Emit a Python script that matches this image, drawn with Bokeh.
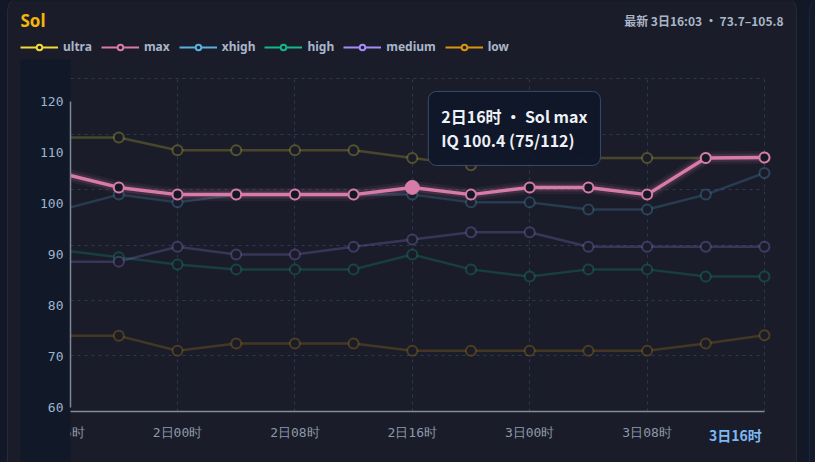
from bokeh.plotting import figure
from bokeh.models import (Range1d, LinearAxis, FixedTicker, Grid, BoxAnnotation,
                          Label, Legend, LegendItem, ColumnDataSource)
from bokeh.embed import file_html
from bokeh.resources import INLINE

# ---------------- data ----------------
times = ["1日16时", "1日20时", "2日00时", "2日04时", "2日08时", "2日12时", "2日16时",
         "2日20时", "3日00时", "3日04时", "3日08时", "3日12时", "3日16时"]
ultra = [109.4, 109.4, 107.1, 107.1, 107.1, 107.1, 105.7, 104.4, 105.7, 105.7, 105.7, 105.7, 105.8]
maxv = [103.0, 100.4, 99.1, 99.1, 99.1, 99.1, 100.4, 99.1, 100.4, 100.4, 99.1, 105.7, 105.8]
xhigh = [96.3, 99.1, 97.7, 99.1, 99.1, 99.1, 99.1, 97.7, 97.7, 96.4, 96.4, 99.1, 103.0]
high = [89.1, 87.8, 86.5, 85.6, 85.6, 85.6, 88.3, 85.6, 84.3, 85.6, 85.6, 84.3, 84.3]
medium = [87.0, 87.0, 89.7, 88.3, 88.3, 89.7, 91.0, 92.3, 92.3, 89.7, 89.7, 89.7, 89.7]
low = [73.6, 73.6, 70.9, 72.2, 72.2, 72.2, 70.9, 70.9, 70.9, 70.9, 70.9, 72.2, 73.7]
y_ticks = [60, 70, 80, 90, 100, 110, 120]
hover_index = 6
hover_counts = "75/112"
updated = "3日16:03"

series = [("ultra", ultra, "#eedc3a"), ("max", maxv, "#d77ba8"), ("xhigh", xhigh, "#5aafe0"),
          ("high", high, "#12b886"), ("medium", medium, "#a78bfa"), ("low", low, "#d8950c")]

CARD = "#1a1d29"
DARK = "#111827"
x = list(range(len(times)))

# ---------------- figure (frame = whole canvas) ----------------
W, H = 815, 462
p = figure(width=W, height=H, output_backend="svg", toolbar_location=None,
           x_range=Range1d(-1.0153, 12.869), y_range=Range1d(50.73, 134.15),
           x_axis_type=None, y_axis_type=None,
           min_border_left=0, min_border_right=0, min_border_top=0, min_border_bottom=0,
           background_fill_color="#121827", border_fill_color="#121827",
           outline_line_color=None)

p.extra_y_ranges = {"yax": Range1d(49.30, 139.71)}
p.extra_x_ranges = {"xlab": Range1d(-1.0153 + 0.494, 12.869 + 0.494)}

# card backgrounds
p.add_layout(BoxAnnotation(left=7, right=796, top=-4, bottom=480, left_units="canvas",
                           right_units="canvas", top_units="canvas", bottom_units="canvas",
                           fill_color=CARD, fill_alpha=1, line_color="#57503a",
                           line_width=1, border_radius=14, level="underlay"))
p.add_layout(BoxAnnotation(left=809, right=840, top=-4, bottom=480, left_units="canvas",
                           right_units="canvas", top_units="canvas", bottom_units="canvas",
                           fill_color="#121a2b", fill_alpha=1, line_color="#2b4777",
                           line_width=1, border_radius=14, level="underlay"))

# grids
xg = Grid(dimension=0, ticker=FixedTicker(ticks=x[::2]), grid_line_color="#2a3850",
          grid_line_dash="3 4", grid_line_width=1, cross_bounds=(60, 120))
yg = Grid(dimension=1, ticker=FixedTicker(ticks=y_ticks[1:]), grid_line_color="#2a3850",
          grid_line_dash="3 4", grid_line_width=1, cross_bounds=(0.177, 12))
p.add_layout(xg)
p.add_layout(yg)

# dimmed series
order = ["low", "high", "medium", "xhigh", "ultra"]
lookup = {n: (v, c) for n, v, c in series}
sources = {}
for name in order:
    vals, col = lookup[name]
    src = ColumnDataSource(dict(x=x, y=vals))
    sources[name] = src
    p.line("x", "y", source=src, line_color=col, line_alpha=0.22, line_width=2.5)
    p.scatter("x", "y", source=src, size=10, fill_color=CARD, line_color=col,
              line_alpha=0.27, line_width=2)

# highlighted series: max
pink = lookup["max"][1]
msrc = ColumnDataSource(dict(x=x, y=maxv))
sources["max"] = msrc
p.line("x", "y", source=msrc, line_color=pink, line_width=13, line_alpha=0.07)
p.line("x", "y", source=msrc, line_color=pink, line_width=8, line_alpha=0.15)
p.line("x", "y", source=msrc, line_color=pink, line_width=3.5)
p.scatter("x", "y", source=msrc, size=10, fill_color="#121826", line_color=pink, line_width=2)
p.scatter([x[hover_index]], [maxv[hover_index]], size=14, fill_color=pink, line_color=pink)

# legend entries in full colour (hidden renderers used only for the key)
items = []
for name, vals, col in series:
    rl = p.line("x", "y", source=sources[name], line_color=col, line_width=2, visible=False)
    rp = p.scatter("x", "y", source=sources[name], size=8, fill_color=CARD, line_color=col,
                   line_width=2, visible=False)
    items.append(LegendItem(label=name, renderers=[rl, rp]))
legend = Legend(items=items, orientation="horizontal", location=(20, H - 55),
                glyph_width=38, glyph_height=14, label_height=14, label_standoff=5,
                spacing=9, padding=0, margin=0, background_fill_alpha=0,
                border_line_alpha=0, inactive_fill_alpha=0,
                label_text_color="#a9b5c9",
                label_text_font="Noto Sans", label_text_font_style="bold",
                label_text_font_size="12px")
p.add_layout(legend)

# axes
xax = LinearAxis(ticker=FixedTicker(ticks=x[:-1:2]),
                 major_label_overrides={i: times[i] for i in x[:-1:2]},
                 bounds=(0, 12), fixed_location=60,
                 axis_line_color="#858c99", axis_line_width=1.5,
                 major_tick_out=0, major_tick_in=0, minor_tick_out=0, minor_tick_in=0,
                 major_label_standoff=14, major_label_text_font="DejaVu Sans Mono",
                 major_label_text_font_size="13px", major_label_text_color="#8e98aa")
p.add_layout(xax, "below")

xhl = LinearAxis(x_range_name="xlab", ticker=FixedTicker(ticks=[x[-1]]),
                 major_label_overrides={x[-1]: times[-1]}, fixed_location=60,
                 axis_line_color=None, major_tick_out=0, major_tick_in=0,
                 minor_tick_out=0, minor_tick_in=0, major_label_standoff=14,
                 major_label_text_font="Noto Sans CJK SC", major_label_text_font_style="bold",
                 major_label_text_font_size="14px", major_label_text_color="#7db8f5")
p.add_layout(xhl, "below")

yax = LinearAxis(y_range_name="yax", ticker=FixedTicker(ticks=y_ticks), bounds=(60, 120),
                 fixed_location=0.177, axis_line_color="#7f8796", axis_line_width=1.5,
                 major_tick_out=0, major_tick_in=0, minor_tick_out=0, minor_tick_in=0,
                 major_label_standoff=7, major_label_text_font="DejaVu Sans Mono",
                 major_label_text_font_size="13px", major_label_text_color="#9db4d2")
yax.level = "overlay"
p.add_layout(yax, "left")

# left band (covers start of lines and first tick label)
p.add_layout(BoxAnnotation(left=20, right=70, top=59, bottom=480, left_units="canvas",
                           right_units="canvas", top_units="canvas", bottom_units="canvas",
                           fill_color=DARK, fill_alpha=1, line_alpha=0, level="annotation"))

# header texts
latest = [s[1][-1] for s in series]
p.add_layout(Label(x=20, y=20, x_units="canvas", y_units="canvas", text="Sol",
                   text_font="Noto Sans", text_font_style="bold", text_font_size="17px",
                   text_color="#f5b60c", text_baseline="middle", text_align="left"))
p.add_layout(Label(x=783, y=20, x_units="canvas", y_units="canvas",
                   text=f"最新 {updated} • {min(latest):.1f}–{max(latest):.1f}",
                   text_font="Noto Sans CJK SC", text_font_style="bold", text_font_size="12px",
                   text_color="#aab5c7", text_baseline="middle", text_align="right"))

# tooltip
p.add_layout(Label(x=x[hover_index], y=maxv[hover_index], x_offset=16, y_offset=22,
                   text=f"{times[hover_index]} • Sol max\nIQ {maxv[hover_index]} ({hover_counts})",
                   text_font="Noto Sans CJK SC", text_font_style="bold", text_font_size="16px",
                   text_color="#eef1f6", text_align="left", text_baseline="bottom",
                   text_line_height=1.0, background_fill_color="#0f172a",
                   background_fill_alpha=0.96, border_line_color="#3a4c69",
                   border_line_width=1, border_radius=8, padding=13))

html = file_html(p, INLINE)
html = html.replace("<head>", "<head><style>body{background:#121827;}</style>", 1)
open("out.html", "w").write(html)
